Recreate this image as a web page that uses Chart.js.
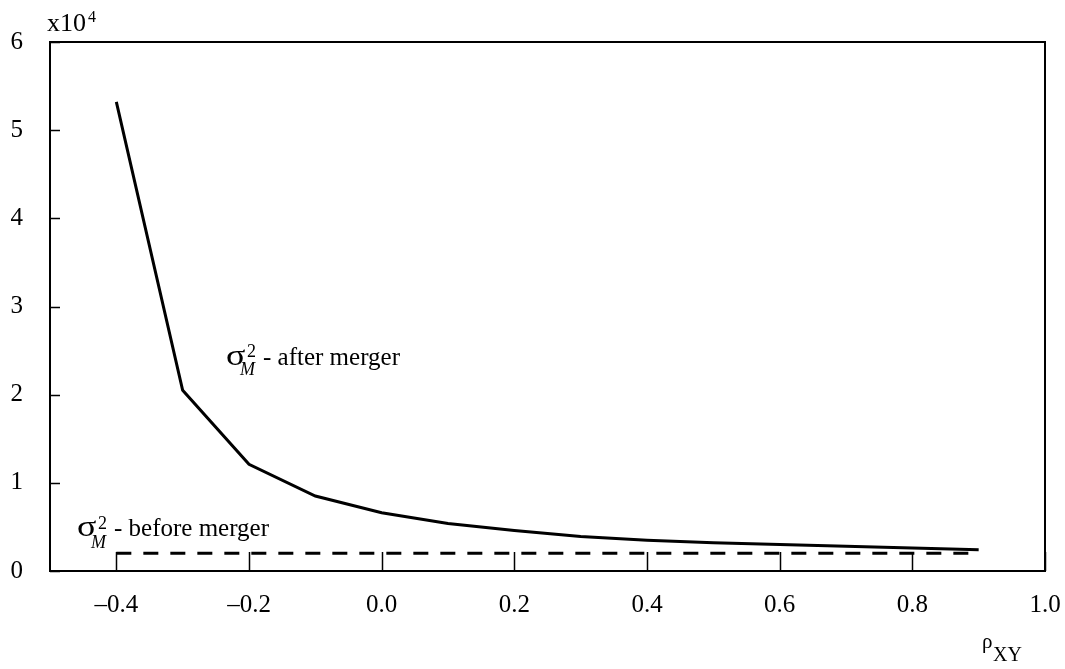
<!DOCTYPE html>
<html>
<head>
<meta charset="utf-8">
<script src="https://cdn.jsdelivr.net/npm/chart.js@4/dist/chart.umd.min.js"></script>
<style>
  html, body { margin: 0; background: #fff; }
</style>
</head>
<body>
<canvas id="chart" width="1065" height="669"></canvas>
<script>
// correlation rho_XY and portfolio variance (x10^4)
const rho = [-0.4, -0.3, -0.2, -0.1, 0.0, 0.1, 0.2, 0.3, 0.4, 0.5, 0.6, 0.7, 0.8, 0.9];
const afterMerger = [5.32, 2.05, 1.21, 0.85, 0.66, 0.54, 0.46, 0.39, 0.35, 0.32, 0.30, 0.28, 0.26, 0.24];
const beforeMerger = [0.2, 0.2, 0.2, 0.2, 0.2, 0.2, 0.2, 0.2, 0.2, 0.2, 0.2, 0.2, 0.2, 0.2];
const xTicks = [-0.4, -0.2, 0.0, 0.2, 0.4, 0.6, 0.8, 1.0];
const yTicks = [0, 1, 2, 3, 4, 5, 6];

const FONT = "Liberation Serif";

function fmtX(v) {
  const s = Number(v).toFixed(1);
  return s.startsWith("-") ? "\u2013" + s.slice(1) : s;
}

// sigma^2_M label with sub/superscript
function drawSigma(ctx, sx, by, rest, supDy, subDy) {
  ctx.fillStyle = "#000";
  ctx.textBaseline = "alphabetic";
  ctx.textAlign = "left";
  ctx.save();
  ctx.translate(sx, by);
  ctx.scale(1.2, 1);
  ctx.font = `30px ${FONT}`;
  ctx.fillText("\u03C3", 0, 0);
  ctx.restore();
  ctx.font = `18px ${FONT}`;
  ctx.fillText("2", sx + 21, by + supDy);
  ctx.font = `italic 18px ${FONT}`;
  ctx.fillText("M", sx + 14, by + subDy);
  ctx.font = `25px ${FONT}`;
  ctx.fillText(rest, sx + 37, by);
}

const framePlugin = {
  id: "frame",
  afterDraw(chart) {
    const { ctx, chartArea: a, scales } = chart;
    ctx.save();
    ctx.strokeStyle = "#000";
    ctx.lineWidth = 2;
    ctx.strokeRect(a.left, a.top, a.right - a.left, a.bottom - a.top);

    // inward tick marks
    ctx.lineWidth = 1.5;
    ctx.beginPath();
    xTicks.forEach(v => {
      const px = Math.round(scales.x.getPixelForValue(v)) + 0.5;
      ctx.moveTo(px, a.bottom);
      ctx.lineTo(px, a.bottom - 19);
    });
    yTicks.forEach(v => {
      const py = Math.round(scales.y.getPixelForValue(v)) + 0.5;
      ctx.moveTo(a.left, py);
      ctx.lineTo(a.left + 10, py);
    });
    ctx.stroke();

    // scale factor
    ctx.fillStyle = "#000";
    ctx.textAlign = "left";
    ctx.textBaseline = "alphabetic";
    ctx.font = `26px ${FONT}`;
    ctx.fillText("x10", 47, 31);
    ctx.font = `16px ${FONT}`;
    ctx.fillText("4", 88, 22);

    // axis title rho_XY
    ctx.font = `21px ${FONT}`;
    ctx.fillText("\u03C1", 982, 648);
    ctx.font = `20px ${FONT}`;
    ctx.fillText("XY", 993, 661);

    // annotations
    drawSigma(ctx, 226, 365, "- after merger", -8, 10);
    drawSigma(ctx, 77, 536, "- before merger", -7, 12);
    ctx.restore();
  }
};

new Chart(document.getElementById("chart"), {
  type: "line",
  data: {
    datasets: [
      {
        label: "after merger",
        data: rho.map((r, i) => ({ x: r, y: afterMerger[i] })),
        borderColor: "#000",
        borderWidth: 3,
        pointRadius: 0,
        tension: 0,
      },
      {
        label: "before merger",
        data: rho.map((r, i) => ({ x: r, y: beforeMerger[i] })),
        borderColor: "#000",
        borderWidth: 3,
        borderDash: [15, 12],
        pointRadius: 0,
      },
    ],
  },
  options: {
    responsive: false,
    animation: false,
    devicePixelRatio: 1,
    layout: { padding: { top: 42, right: 20, left: 0, bottom: 0 } },
    plugins: { legend: { display: false }, tooltip: { enabled: false } },
    scales: {
      x: {
        type: "linear",
        min: -0.5, max: 1.0,
        afterBuildTicks: s => { s.ticks = xTicks.map(v => ({ value: v })); },
        afterFit: s => { s.height = 98; s.paddingLeft = 0; s.paddingRight = 0; },
        grid: { display: false, drawTicks: false },
        border: { display: false },
        ticks: {
          color: "#000",
          font: { family: FONT, size: 25 },
          padding: 19,
          maxRotation: 0,
          autoSkip: false,
          callback: v => fmtX(v),
        },
      },
      y: {
        min: 0, max: 6,
        afterBuildTicks: s => { s.ticks = yTicks.map(v => ({ value: v })); },
        afterFit: s => { s.width = 50; s.paddingTop = 0; s.paddingBottom = 0; },
        grid: { display: false, drawTicks: false },
        border: { display: false },
        ticks: {
          color: "#000",
          font: { family: FONT, size: 25 },
          padding: 27,
          autoSkip: false,
          callback: v => String(v),
        },
      },
    },
  },
  plugins: [framePlugin],
});
</script>
</body>
</html>
